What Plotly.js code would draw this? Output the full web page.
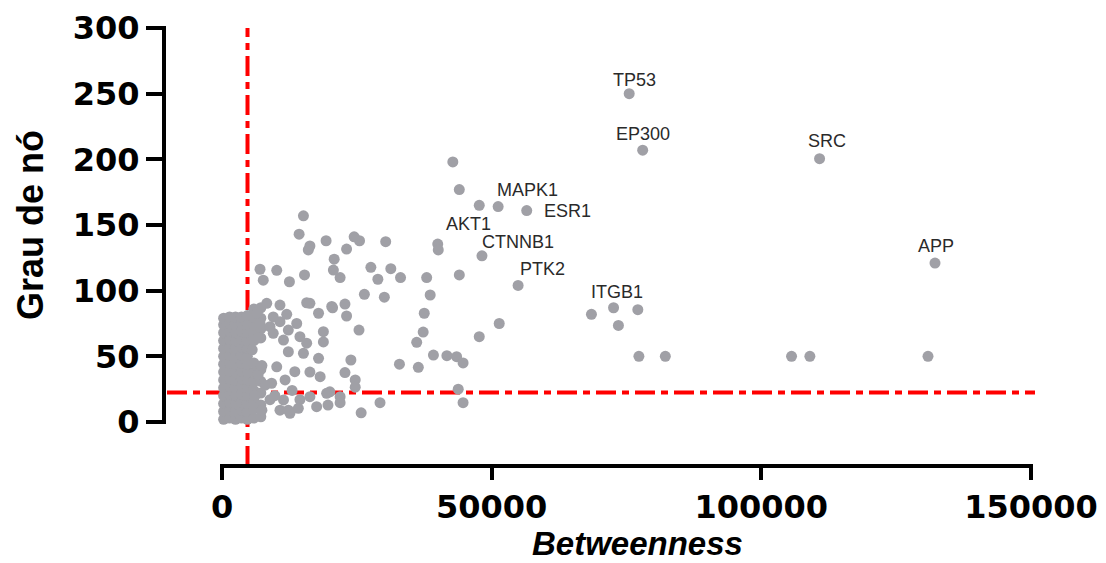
<!DOCTYPE html>
<html>
<head>
<meta charset="utf-8">
<script src="https://cdn.plot.ly/plotly-3.0.1.min.js"></script>
<style>
  html, body { margin: 0; padding: 0; background: #ffffff; }
  #chart { width: 1106px; height: 563px; }
</style>
</head>
<body>
<div id="chart"></div>
<script>
// Hub / labelled and far-right nodes
const hubBetweenness = [75500, 78000, 110800, 132200, 68500, 72600, 77100, 73500, 77300, 82200, 105600, 109000, 130900, 42800, 44000, 47700, 51200, 56500, 40000, 40100, 48200, 54900];
const hubDegree      = [250, 207, 200.5, 121, 82, 87, 85.5, 73.5, 50, 50, 50, 50, 50, 198, 177, 165, 164, 161, 135.5, 131, 126.5, 104];

// Scattered mid-range nodes
const spreadBetweenness = [51400, 47700, 39200, 41700, 43500, 44700, 32900, 36400, 43800, 44700, 29300, 25800, 21900, 19400, 16300, 14150, 12300, 24700, 22800, 23900, 24700, 25400, 37300, 36100, 37500, 23100, 22800, 20500, 17900, 15700, 26400, 30100, 38600, 44000, 37950, 33100, 28900, 31300, 27600, 15300, 12500, 7650, 10150, 7050, 21900, 20650, 20800, 30350, 23100, 25500, 24500, 19300, 16000, 16300, 14300, 15100];
const spreadDegree      = [75, 65, 51, 50.5, 49.7, 45, 44, 41.6, 25, 14.7, 14.7, 7, 14.7, 21.8, 19.3, 10.4, 9, 32, 37.6, 47.2, 26.5, 70, 68.5, 60.7, 82.8, 80.7, 89.8, 87, 82.8, 90.8, 97.2, 95, 96.7, 112, 110, 110, 108.7, 116.7, 117.8, 112, 106.8, 108, 115.5, 116.3, 110, 115.7, 124, 137.3, 131.7, 138, 141, 138, 131, 134, 143, 157];

// Semi-dense nodes next to the main cluster
const nearBetweenness = [8300, 10750, 16300, 20350, 13850, 14450, 15700, 18800, 18800, 17900, 15100, 12300, 13500, 16300, 18200, 20000, 21900, 17550, 19650, 12600, 11400, 9200, 10150, 9500, 11400, 7050, 8900, 10750, 12300, 6500, 9500, 12000, 6100, 7400, 8900, 6700, 8000, 9800, 10750, 7400, 5600, 6700, 13000, 14450, 11700];
const nearDegree      = [90.4, 89, 90.4, 88, 75, 65, 60, 68.8, 61, 48.5, 52.3, 53.5, 38.3, 38, 34.5, 23, 19.3, 11.7, 12.9, 6.6, 16.8, 29.5, 42, 67.5, 62.4, 75.2, 72.6, 76.4, 70, 83, 80, 82, 20, 9, 17, 36, 28, 20, 9, 43, 55, 64, 24, 17, 32];

// Dense cluster of low-betweenness nodes
const clusterBetweenness = [
  300, 300, 300, 300, 300, 300, 300, 300, 300, 300, 300, 300, 300, 300,
  1400, 1400, 1400, 1400, 1400, 1400, 1400, 1400, 1400, 1400, 1400, 1400, 1400, 1400,
  2500, 2500, 2500, 2500, 2500, 2500, 2500, 2500, 2500, 2500, 2500, 2500, 2500, 2500,
  3600, 3600, 3600, 3600, 3600, 3600, 3600, 3600, 3600, 3600, 3600, 3600, 3600, 3600,
  4700, 4700, 4700, 4700, 4700, 4700, 4700, 4700, 4700, 4700, 4700, 4700, 4700, 4700,
  5900, 5900, 5900, 5900, 5900, 5900, 5900, 5900, 5900, 5900, 5900, 5900,
  7200, 7200, 7200, 7200, 7200, 7200, 7200, 7200, 7200
];
const clusterDegree = [
  2, 8, 14, 20, 26, 32, 38, 44, 50, 56, 62, 68, 74, 79,
  3, 9, 15, 21, 27, 33, 39, 45, 51, 57, 63, 69, 75, 80,
  2, 8, 14, 20, 26, 32, 38, 44, 50, 56, 62, 68, 74, 80,
  3, 9, 15, 21, 27, 33, 39, 45, 51, 57, 63, 69, 75, 80,
  2, 8, 14, 20, 26, 32, 38, 44, 50, 56, 62, 68, 74, 81,
  3, 10, 17, 24, 31, 38, 45, 62, 68, 74, 80, 86,
  4, 13, 22, 31, 40, 64, 71, 79, 87
];

// Labelled genes
const labelNames       = ['TP53', 'EP300', 'SRC', 'APP', 'MAPK1', 'ESR1', 'AKT1', 'CTNNB1', 'PTK2', 'ITGB1'];
const labelBetweenness = [75500, 78000, 110800, 132200, 51200, 56500, 40100, 48200, 54900, 72600];
const labelDegree      = [250, 207, 200.5, 121, 164, 161, 131, 126.5, 104, 87];

// Threshold lines
const betweennessCut = 4730;
const degreeCut = 22.5;

const xTicks = [0, 50000, 100000, 150000];
const yTicks = [0, 50, 100, 150, 200, 250, 300];

// ---- geometry (style) ----
const W = 1106, H = 563;
const plotL = 164, plotR = 1036, plotT = 28, plotB = 466;
const xAxL = 222, xAxR = 1031;      // pixel span of the x axis line
const yAxT = 28, yAxB = 422;        // pixel span of the y axis line
const xMax = xTicks[xTicks.length - 1], yMax = yTicks[yTicks.length - 1];
const pxToX = px => (px - xAxL) * xMax / (xAxR - xAxL);
const pxToY = py => (yAxB - py) * yMax / (yAxB - yAxT);
const plotW = plotR - plotL, plotH = plotB - plotT;
const paperX = px => (px - plotL) / plotW;
const paperY = py => (plotB - py) / plotH;

// label offsets in pixels (style)
const labelDx = [5, 0, 7, 1, 29, 41, 30, 36, 24, 3];
const labelDy = [14, 16, 18, 17, 17, 0, 26, 14, 16, 16];

const allX = clusterBetweenness.concat(nearBetweenness, spreadBetweenness, hubBetweenness);
const allY = clusterDegree.concat(nearDegree, spreadDegree, hubDegree);

const redLine = { color: '#ff0000', width: 4, dash: '20px,6px,7px,6px' };

// threshold lines first so the points are painted over them
const hLine = {
  type: 'scatter', mode: 'lines',
  x: [pxToX(plotL + 3), pxToX(1035)], y: [degreeCut, degreeCut],
  line: redLine, hoverinfo: 'skip', showlegend: false
};
const vLine = {
  type: 'scatter', mode: 'lines',
  x: [betweennessCut, betweennessCut], y: [pxToY(plotB), pxToY(plotT - 2)],
  line: redLine, hoverinfo: 'skip', showlegend: false
};

const points = {
  type: 'scatter', mode: 'markers',
  x: allX, y: allY,
  cliponaxis: false,
  marker: { color: 'rgb(160,160,166)', size: 11, opacity: 1, line: { width: 0 } },
  hoverinfo: 'x+y', showlegend: false
};

const annotations = labelNames.map((name, i) => ({
  x: labelBetweenness[i], y: labelDegree[i], xref: 'x', yref: 'y',
  text: name, showarrow: false, xanchor: 'center', yanchor: 'middle',
  xshift: labelDx[i], yshift: labelDy[i],
  font: { family: 'Liberation Sans, Arial, sans-serif', size: 18, color: '#2a2a2a' }
}));

annotations.push({
  xref: 'paper', yref: 'paper',
  x: paperX(637), y: paperY(543),
  xanchor: 'center', yanchor: 'middle', showarrow: false,
  text: '<b><i>Betweenness</i></b>',
  font: { family: 'Liberation Sans, Arial, sans-serif', size: 33, color: '#000' }
});
annotations.push({
  xref: 'paper', yref: 'paper',
  x: paperX(31), y: paperY(225),
  xanchor: 'center', yanchor: 'middle', showarrow: false, textangle: -90,
  text: '<b>Grau de nó</b>',
  font: { family: 'Liberation Sans, Arial, sans-serif', size: 36, color: '#000' }
});

const tickFont = { family: 'DejaVu Sans, sans-serif', size: 32, color: '#000', weight: 'bold' };
const axisLine = { color: '#000', width: 4 };

const layout = {
  width: W, height: H,
  paper_bgcolor: '#ffffff', plot_bgcolor: '#ffffff',
  margin: { l: plotL, r: W - plotR, t: plotT, b: H - plotB, pad: 0 },
  showlegend: false,
  xaxis: {
    domain: [0, 1], range: [pxToX(plotL), pxToX(plotR)],
    showgrid: false, zeroline: false, showline: false,
    ticks: 'outside', ticklen: 13, tickwidth: 4, tickcolor: '#000',
    tickmode: 'array', tickvals: xTicks, ticktext: xTicks.map(String),
    tickfont: tickFont, automargin: false, fixedrange: true
  },
  yaxis: {
    domain: [0, 1], range: [pxToY(plotB), pxToY(plotT)],
    showgrid: false, zeroline: false, showline: false,
    ticks: 'outside', ticklen: 17, tickwidth: 4, tickcolor: '#000',
    tickmode: 'array', tickvals: yTicks, ticktext: yTicks.map(String),
    tickfont: tickFont, automargin: false, fixedrange: true
  },
  shapes: [
    { type: 'line', layer: 'above', xref: 'paper', yref: 'paper',
      x0: paperX(xAxL - 2), x1: paperX(xAxR + 2), y0: 0, y1: 0, line: axisLine },
    { type: 'line', layer: 'above', xref: 'paper', yref: 'paper',
      x0: 0, x1: 0, y0: paperY(yAxB + 2), y1: paperY(yAxT - 2), line: axisLine }
  ],
  annotations: annotations
};

Plotly.newPlot('chart', [hLine, vLine, points], layout, { displayModeBar: false, staticPlot: true });
</script>
</body>
</html>
